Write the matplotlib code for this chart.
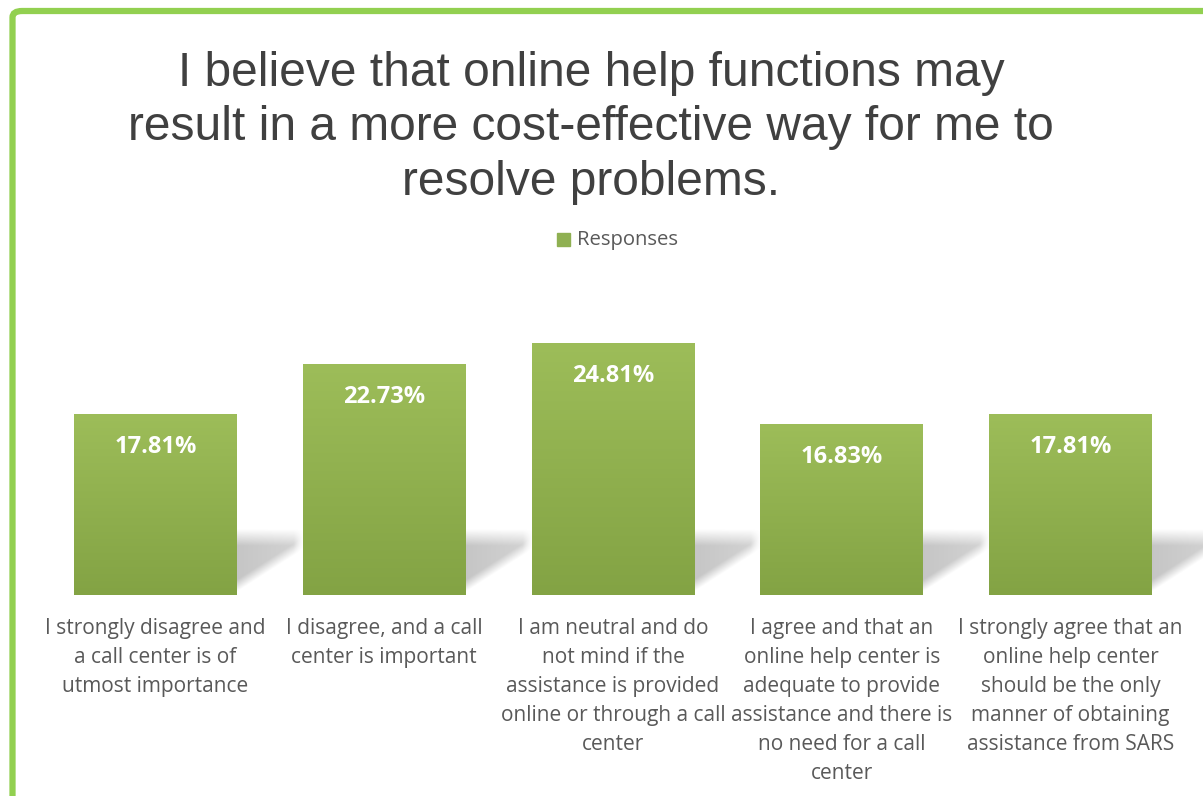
import matplotlib
matplotlib.use("Agg")
from matplotlib import pyplot as plt
from matplotlib.patches import FancyBboxPatch
import numpy as np

categories = [
    "I strongly disagree and\na call center is of\nutmost importance",
    "I disagree, and a call\ncenter is important",
    "I am neutral and do\nnot mind if the\nassistance is provided\nonline or through a call\ncenter",
    "I agree and that an\nonline help center is\nadequate to provide\nassistance and there is\nno need for a call\ncenter",
    "I strongly agree that an\nonline help center\nshould be the only\nmanner of obtaining\nassistance from SARS",
]
responses = [17.81, 22.73, 24.81, 16.83, 17.81]
series_name = "Responses"
title = "I believe that online help functions may\nresult in a more cost-effective way for me to\nresolve problems."

W, H = 1203, 796
fig = plt.figure(figsize=(W / 100, H / 100), dpi=100)

# green frame (only left & top are visible)
frame = FancyBboxPatch((12.5 / W, -0.2), 1.2, 1.2 - 11 / H, boxstyle="round,pad=0,rounding_size=0.008",
                       transform=fig.transFigure, fill=False, edgecolor="#92D050", linewidth=4.5, clip_on=False)
fig.patches.append(frame)

ax = fig.add_axes([41 / W, 201 / H, (1185 - 41) / W, (30 * 10.16) / H])
ax.axis("off")

x = np.arange(len(responses))
width = 0.712
bars = ax.bar(x, responses, width, color="#8FAF4E", zorder=3)

# vertical gradient on bars
grad = np.linspace(0, 1, 256).reshape(-1, 1)
top = np.array([157, 189, 89]) / 255
bot = np.array([131, 163, 68]) / 255
img = (bot + (top - bot) * grad[:, :, None] * np.ones((1, 1, 3)))
for b in bars:
    x0, h = b.get_x(), b.get_height()
    im = ax.imshow(img, extent=[x0, x0 + width, 0, h], origin="lower", aspect="auto", zorder=4)
    im.set_clip_path(b)

# soft perspective shadow to the right of each bar
n = 150
u = np.linspace(0, 1, n)[None, :]
v = np.linspace(0, 1, n)[:, None]
a_diag = np.clip((v - (0.05 + 0.65 * u)) / 0.18, 0, 1)
a_top = np.clip((1 - v) / 0.25, 0, 1)
a_right = np.clip((1 - u) / 0.15, 0, 1)
alpha = 0.45 * a_diag * a_top * a_right * (1 - 0.25 * u)
shadow = np.zeros((n, n, 4))
shadow[..., :3] = 0.5
shadow[..., 3] = alpha
for b in bars:
    x1 = b.get_x() + width
    s = ax.imshow(shadow, extent=[x1, x1 + 0.29, 0, 6.4], origin="lower", aspect="auto", zorder=2,
                  interpolation="bilinear")
    s.set_clip_on(False)
ax.set_xlim(-0.5, len(responses) - 0.5)
ax.set_ylim(0, 30)

for b, val in zip(bars, responses):
    ax.annotate(f"{val:.2f}%", (b.get_x() + width / 2, val), xytext=(0, -33), textcoords="offset pixels",
                ha="center", va="center", color="white", fontsize=17, fontweight="bold",
                family="Open Sans", zorder=6)

for i, lab in enumerate(categories):
    ax.annotate(lab, (i, 0), xytext=(0, -23), textcoords="offset pixels", ha="center", va="top",
                color="#595959", fontsize=15, family="Open Sans", linespacing=1.50, annotation_clip=False)

fig.text(591 / W, 1 - 128 / H, title, ha="center", va="center", fontsize=34.5, color="#404040",
         family="Liberation Sans", linespacing=1.27)

# legend
fig.patches.append(plt.Rectangle((557 / W, 1 - 246 / H), 13 / W, 13 / H, transform=fig.transFigure,
                                 color="#8FB052"))
fig.text(577 / W, 1 - 240 / H, series_name, ha="left", va="center", fontsize=14.6, color="#595959",
         family="Open Sans")

fig.savefig("out.png", dpi=100)
